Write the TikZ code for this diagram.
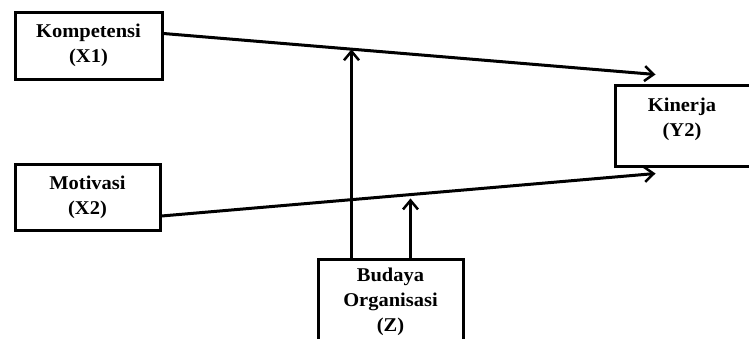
\documentclass[tikz,border=0pt]{standalone}
\usepackage{fontspec}
\setmainfont{Liberation Serif}[FakeStretch=1.05]
\usetikzlibrary{arrows.meta,calc}
\begin{document}
\begin{tikzpicture}[x=1pt,y=-1pt,
  box/.style={draw,line width=3pt,rectangle,align=center,inner sep=0pt,
    font=\fontsize{19.5}{25}\selectfont\bfseries},
  txt/.style={align=center,inner sep=0pt,font=\fontsize{19.5}{25}\selectfont\bfseries},
  arr/.style={line width=3pt,-{Straight Barb[length=9pt,width=15pt,line width=2.5pt]}}]
\useasboundingbox (0,0) rectangle (749,338);
\node[box,minimum width=147pt,minimum height=67pt] (k) at (88.5,45.5) {Kompetensi\\(X1)};
\node[box,minimum width=145pt,minimum height=66pt] (m) at (87.5,197) {Motivasi\\(X2)};
\node[box,minimum width=200pt,minimum height=81pt] (y) at (715,125.5) {};
\node[txt] (yt) at (682,119) {Kinerja\\(Y2)};
\node[box,minimum width=145pt,minimum height=86pt] (z) at (390.5,302) {Budaya\\Organisasi\\(Z)};
\draw[arr] ([yshift=12pt]k.east) -- coordinate[pos=0.386] (p1) ([xshift=42pt,yshift=9pt]y.north west);
\draw[arr] ([yshift=-19pt]m.east) -- coordinate[pos=0.507] (p2) ([xshift=42pt,yshift=-6pt]y.south west);
\coordinate (z1) at ([xshift=35pt]z.north west);
\coordinate (z2) at ([xshift=94pt]z.north west);
\draw[arr] (z1) -- (z1 |- p1);
\draw[arr] (z2) -- ([yshift=-4pt]z2 |- p2);
\end{tikzpicture}
\end{document}
